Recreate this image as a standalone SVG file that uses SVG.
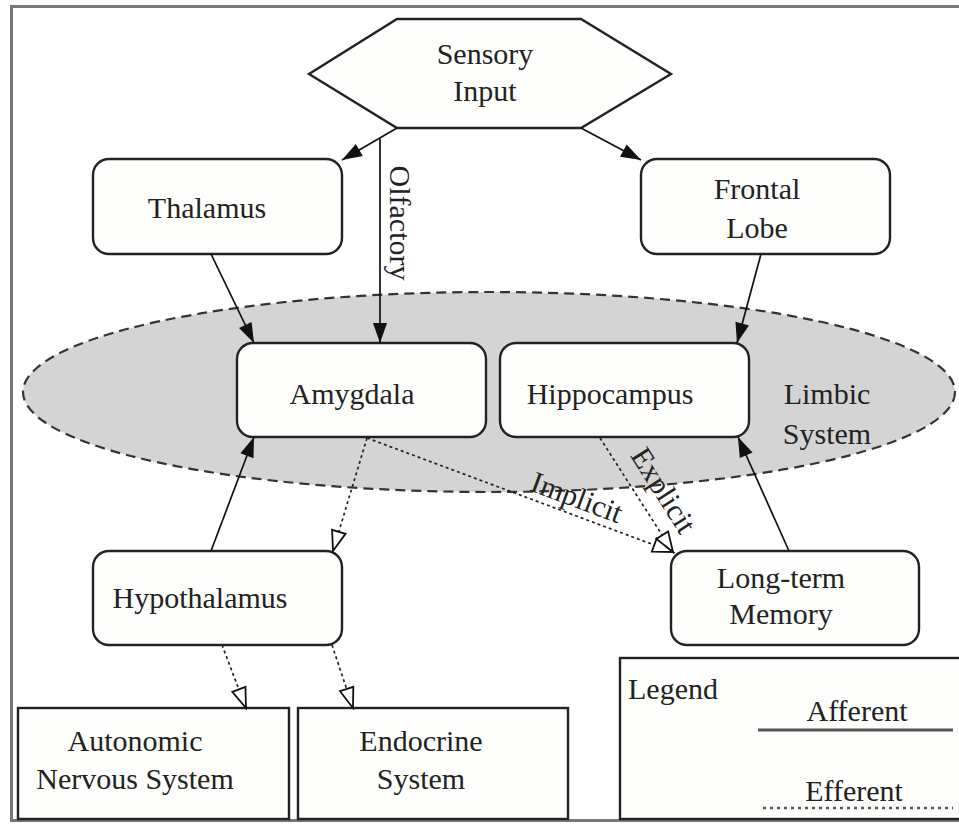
<svg xmlns="http://www.w3.org/2000/svg" width="959" height="825" viewBox="0 0 959 825">
<style>
text{font-family:"Liberation Serif","Times New Roman",serif;font-size:30px;fill:#222;text-anchor:middle;dominant-baseline:central}
.node{fill:#fefefc;stroke:#222;stroke-width:2.4}
.aff{fill:none;stroke:#111;stroke-width:1.7;marker-end:url(#filled)}
.eff{fill:none;stroke:#222;stroke-width:1.7;stroke-dasharray:3,3;marker-end:url(#hollow)}
</style>
<defs>
<marker id="filled" markerUnits="userSpaceOnUse" markerWidth="22" markerHeight="16" refX="20" refY="7" orient="auto" overflow="visible">
<path d="M0,0 L20,7 L0,14 z" fill="#111"/>
</marker>
<marker id="hollow" markerUnits="userSpaceOnUse" markerWidth="22" markerHeight="16" refX="20" refY="7" orient="auto" overflow="visible">
<path d="M0,0 L20,7 L0,14 z" fill="#fff" stroke="#111" stroke-width="1.8" stroke-dasharray="none"/>
</marker>
</defs>
<rect x="0" y="0" width="959" height="825" fill="#fff"/>
<rect x="11.5" y="6.5" width="960" height="814" fill="none" stroke="#777" stroke-width="3"/>

<g id="limbic-system">
<ellipse cx="489" cy="392" rx="466" ry="100" fill="#d4d4d4" stroke="#333" stroke-width="2.2" stroke-dasharray="10,6"/>
<text x="827" y="393">Limbic</text>
<text x="827" y="433">System</text>
</g>

<g id="sensory-input">
<polygon class="node" points="397,19 581,19 671,74 581,128 397,128 309,74"/>
<text x="485" y="53">Sensory</text>
<text x="485" y="90">Input</text>
</g>
<g id="thalamus">
<rect class="node" x="93" y="159" width="249" height="95" rx="16"/>
<text x="207" y="207">Thalamus</text>
</g>
<g id="frontal-lobe">
<rect class="node" x="641" y="159" width="249" height="95" rx="16"/>
<text x="757" y="188">Frontal</text>
<text x="757" y="227">Lobe</text>
</g>
<g id="amygdala">
<rect class="node" x="237" y="343" width="249" height="94" rx="16"/>
<text x="352" y="393">Amygdala</text>
</g>
<g id="hippocampus">
<rect class="node" x="500" y="343" width="249" height="94" rx="16"/>
<text x="610" y="393">Hippocampus</text>
</g>
<g id="hypothalamus">
<rect class="node" x="93" y="551" width="249" height="94" rx="16"/>
<text x="200" y="597">Hypothalamus</text>
</g>
<g id="long-term-memory">
<rect class="node" x="671" y="551" width="248" height="94" rx="16"/>
<text x="781" y="577">Long-term</text>
<text x="781" y="613">Memory</text>
</g>
<g id="autonomic-nervous-system">
<rect class="node" x="18" y="708" width="271" height="111"/>
<text x="135" y="740">Autonomic</text>
<text x="135" y="778">Nervous System</text>
</g>
<g id="endocrine-system">
<rect class="node" x="298" y="708" width="270" height="111"/>
<text x="421" y="740">Endocrine</text>
<text x="421" y="778">System</text>
</g>
<g id="legend">
<rect class="node" x="620" y="658" width="360" height="161"/>
<text x="628" y="688" style="text-anchor:start">Legend</text>
<text x="857" y="710">Afferent</text>
<line x1="758" y1="730" x2="953" y2="730" stroke="#555" stroke-width="3"/>
<text x="854" y="790">Efferent</text>
<line x1="763" y1="808" x2="953" y2="808" stroke="#555" stroke-width="2.5" stroke-dasharray="3,4"/>
</g>

<g id="connectors">
<path class="aff" d="M397,128 L342,160"/>
<path class="aff" d="M581,128 L641,160"/>
<path class="aff" d="M380,138 L380,343"/>
<path class="aff" d="M211,254 L254,343"/>
<path class="aff" d="M761,254 L737,343"/>
<path class="aff" d="M211,551 L254,437"/>
<path class="aff" d="M789,551 L738,437"/>
<path class="eff" d="M367,438 L333,551"/>
<path class="eff" d="M367,438 L673,552"/>
<path class="eff" d="M600,438 L673,552"/>
<path class="eff" d="M222,645 L246,708"/>
<path class="eff" d="M332,645 L353,708"/>
<text x="400" y="223" transform="rotate(90 400 223)">Olfactory</text>
<text x="577" y="497" transform="rotate(20.6 577 497)">Implicit</text>
<text x="664" y="490" transform="rotate(57.6 664 490)">Explicit</text>
</g>
</svg>
